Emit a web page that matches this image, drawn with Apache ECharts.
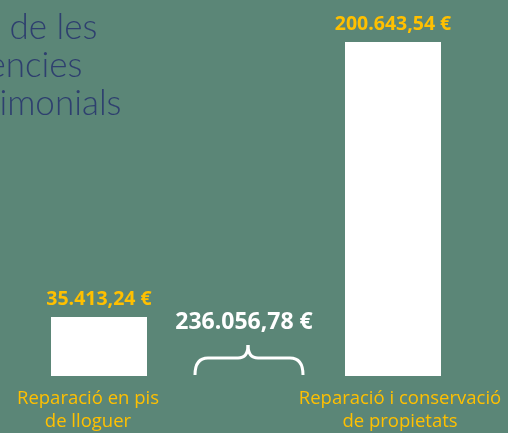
<!DOCTYPE html>
<html><head><meta charset="utf-8">
<style>html,body{margin:0;padding:0;background:#5B8677;}#c{width:508px;height:433px;}</style>
<script src="https://cdn.jsdelivr.net/npm/echarts@6/dist/echarts.min.js"></script>
</head><body><div id="c"></div>
<script>
const categories = ['Reparació en pis\nde lloguer', 'Reparació i conservació\nde propietats'];
const values = [35413.24, 200643.54];
const titleText = 'Part de les\nurgències\npatrimonials';

function fmt(v){
  const parts = v.toFixed(2).split('.');
  const int = parts[0].replace(/\B(?=(\d{3})+(?!\d))/g, '.');
  return int + ',' + parts[1] + ' €';
}
const total = values.reduce((a,b)=>a+b,0);
const braceStyle = {stroke: '#FFFFFF', lineWidth: 3, fill: null};
const labelPads = [[0, 22, 0, 0], [0, 0, 0, 14]];

const chart = echarts.init(document.getElementById('c'));
chart.setOption({
  backgroundColor: '#5B8677',
  animation: false,
  title: {
    text: titleText, left: -66, top: 4,
    textStyle: {fontFamily: 'Lato', fontWeight: 300, fontSize: 35, lineHeight: 38, color: '#2E3F6F'}
  },
  grid: {left: 99, right: 115, top: 42, bottom: 52},
  xAxis: {
    type: 'category', boundaryGap: false,
    data: categories.map((c, i) => ({value: c, textStyle: {padding: labelPads[i], lineHeight: 23}})),
    axisLine: {show: false}, axisTick: {show: false}, splitLine: {show: false},
    axisLabel: {interval: 0, color: '#FFC000', fontFamily: 'Open Sans', fontSize: 18.5, lineHeight: 23, margin: 11}
  },
  yAxis: {type: 'value', show: false, min: 0, max: 'dataMax', splitLine: {show: false}},
  series: [{
    type: 'bar', data: values, barWidth: 96,
    itemStyle: {color: '#FFFFFF'},
    label: {show: true, position: 'top', distance: 8, formatter: p => fmt(p.value),
      color: '#FFC000', fontFamily: 'Open Sans', fontWeight: 'bold', fontSize: 19.5}
  }],
  graphic: [
    {type: 'text', x: 244, y: 322, style: {text: fmt(total), fill: '#FFFFFF', font: 'bold 23px "Open Sans"', textAlign: 'center', textVerticalAlign: 'middle'}},
    {type: 'bezierCurve', shape: {x1: 195, y1: 375, cpx1: 195, cpy1: 358, x2: 208, y2: 358}, style: braceStyle},
    {type: 'line', shape: {x1: 208, y1: 358, x2: 238, y2: 358}, style: braceStyle},
    {type: 'bezierCurve', shape: {x1: 238, y1: 358, cpx1: 248, cpy1: 358, x2: 248, y2: 345}, style: braceStyle},
    {type: 'bezierCurve', shape: {x1: 248, y1: 345, cpx1: 248, cpy1: 358, x2: 258, y2: 358}, style: braceStyle},
    {type: 'line', shape: {x1: 258, y1: 358, x2: 290, y2: 358}, style: braceStyle},
    {type: 'bezierCurve', shape: {x1: 290, y1: 358, cpx1: 303, cpy1: 358, x2: 303, y2: 375}, style: braceStyle}
  ]
});
</script></body></html>
